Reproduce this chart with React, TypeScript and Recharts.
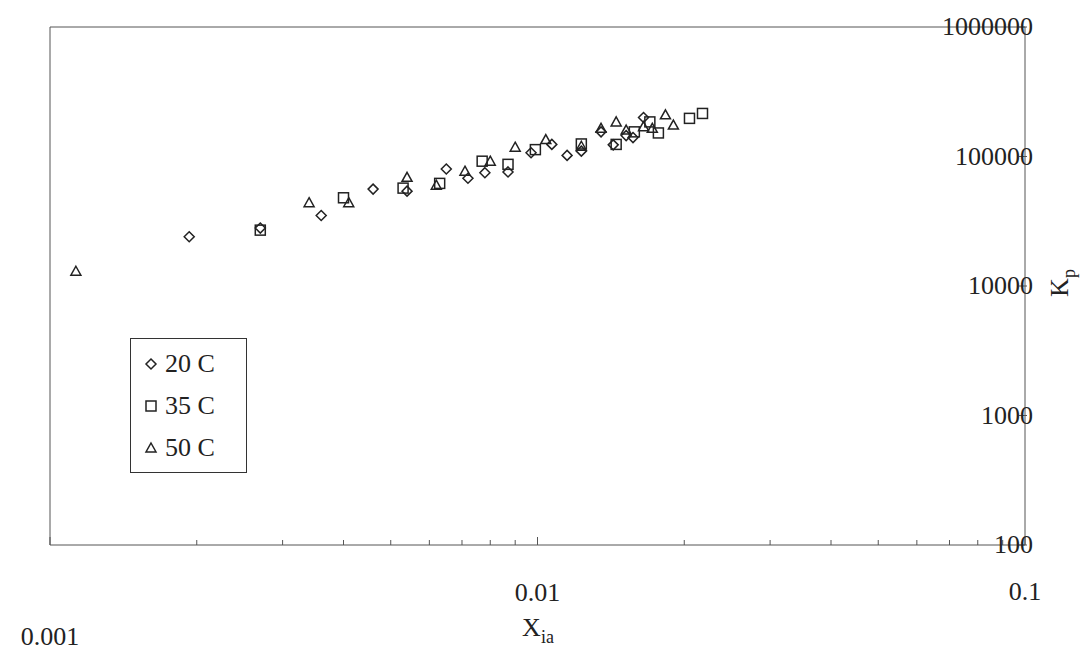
import { ScatterChart, Scatter, XAxis, YAxis, Label, ReferenceLine } from "recharts";

const s20 = [[0.00193, 24000], [0.0027, 28000], [0.0036, 35000], [0.0046, 56000], [0.0054, 54000], [0.0065, 80000], [0.0072, 68000], [0.0078, 75000], [0.0087, 76000], [0.0097, 107000], [0.0107, 124000], [0.0115, 102000], [0.0123, 110000], [0.0135, 155000], [0.0143, 123000], [0.0152, 145000], [0.0157, 140000], [0.0165, 200000]];
const s35 = [[0.0027, 27000], [0.004, 48000], [0.0053, 57000], [0.0063, 62000], [0.0077, 92000], [0.0087, 87000], [0.0099, 113000], [0.0123, 125000], [0.0145, 124000], [0.0158, 155000], [0.017, 185000], [0.0177, 152000], [0.0205, 197000], [0.0218, 215000]];
const s50 = [[0.00113, 13000], [0.0034, 44000], [0.0041, 44000], [0.0054, 69000], [0.0062, 60000], [0.0071, 77000], [0.008, 92000], [0.009, 118000], [0.0104, 135000], [0.0123, 120000], [0.0135, 165000], [0.0145, 185000], [0.0152, 160000], [0.0165, 170000], [0.0172, 165000], [0.0183, 210000], [0.019, 175000]];
const xTicks = [0.001, 0.002, 0.003, 0.004, 0.005, 0.006, 0.007, 0.008, 0.009, 0.01, 0.02, 0.03, 0.04, 0.05, 0.06, 0.07, 0.08, 0.09, 0.1];
const xLabels: Record<string, [string, number]> = { "0.001": ["0.001", 100], "0.01": ["0.01", 56], "0.1": ["0.1", 55] };
const yTicks = [100, 1000, 10000, 100000, 1000000];

const toPts = (a: number[][]) => a.map(([x, y]) => ({ x, y }));
const font = "'Liberation Serif', 'Times New Roman', serif";
const AXIS_Y = 545;

const Diamond = (p: any) => <path d={`M${p.cx},${p.cy - 5}L${p.cx + 5},${p.cy}L${p.cx},${p.cy + 5}L${p.cx - 5},${p.cy}Z`} fill="none" stroke="#222" strokeWidth={1.5} />;
const Square = (p: any) => <rect x={p.cx - 5} y={p.cy - 5} width={10} height={10} fill="none" stroke="#222" strokeWidth={1.5} />;
const Tri = (p: any) => <path d={`M${p.cx},${p.cy - 5}L${p.cx + 5},${p.cy + 4}L${p.cx - 5},${p.cy + 4}Z`} fill="none" stroke="#222" strokeWidth={1.5} />;

const XTick = (p: any) => {
  const v = p.payload.value;
  const lab = xLabels[String(v)];
  return (
    <g>
      <line x1={p.x} x2={p.x} y1={AXIS_Y} y2={AXIS_Y - (lab ? 8 : 5)} stroke="#555" />
      {lab && <text x={p.x} y={AXIS_Y + lab[1]} textAnchor="middle" fontSize={26} fontFamily={font} fill="#222">{lab[0]}</text>}
    </g>
  );
};
const YTick = (p: any) => (
  <g>
    <line x1={p.x - 14} x2={p.x - 6} y1={p.y} y2={p.y} stroke="#555" />
    <text x={p.x + 0} y={p.y + 8} textAnchor="end" fontSize={26} fontFamily={font} fill="#222">{p.payload.value}</text>
  </g>
);

export default function App() {
  return (
    <div style={{ position: "absolute", left: 0, top: 0, width: 1086, height: 652, background: "#fff" }}>
      <ScatterChart width={1086} height={652} margin={{ left: 50, top: 27, right: 0, bottom: 0 }}>
        <XAxis dataKey="x" type="number" scale="log" domain={[0.001, 0.1]} ticks={xTicks} interval={0} tickLine={false} tick={<XTick />} height={107} stroke="#555" allowDataOverflow>
          <Label content={() => (
            <text x={538} y={636} textAnchor="middle" fontSize={26} fontFamily={font} fill="#222">X<tspan fontSize={18} dy={7}>ia</tspan></text>
          )} />
        </XAxis>
        <YAxis orientation="right" dataKey="y" type="number" scale="log" domain={[100, 1000000]} ticks={yTicks} interval={0} tickLine={false} tick={<YTick />} width={61} stroke="#555" allowDataOverflow>
          <Label content={() => (
            <text x={1068} y={283} transform="rotate(-90 1068 283)" textAnchor="middle" fontSize={26} fontFamily={font} fill="#222">K<tspan fontSize={18} dy={7}>p</tspan></text>
          )} />
        </YAxis>
        <ReferenceLine y={1000000} stroke="#555" ifOverflow="visible" />
        <ReferenceLine x={0.001} stroke="#555" ifOverflow="visible" />
        <Scatter data={toPts(s20)} shape={<Diamond />} isAnimationActive={false} />
        <Scatter data={toPts(s35)} shape={<Square />} isAnimationActive={false} />
        <Scatter data={toPts(s50)} shape={<Tri />} isAnimationActive={false} />
      </ScatterChart>
      <div style={{ position: "absolute", left: 130, top: 338, width: 117, height: 135, border: "1px solid #333", fontFamily: font, fontSize: 26, color: "#222", boxSizing: "border-box", padding: "4px 0 0 12px", lineHeight: "42px" }}>
        {[["20 C", Diamond], ["35 C", Square], ["50 C", Tri]].map(([t, S]: any) => (
          <div key={t} style={{ display: "flex", alignItems: "center" }}>
            <svg width={16} height={16}><S cx={8} cy={8} /></svg>
            <span style={{ marginLeft: 6 }}>{t}</span>
          </div>
        ))}
      </div>
    </div>
  );
}
